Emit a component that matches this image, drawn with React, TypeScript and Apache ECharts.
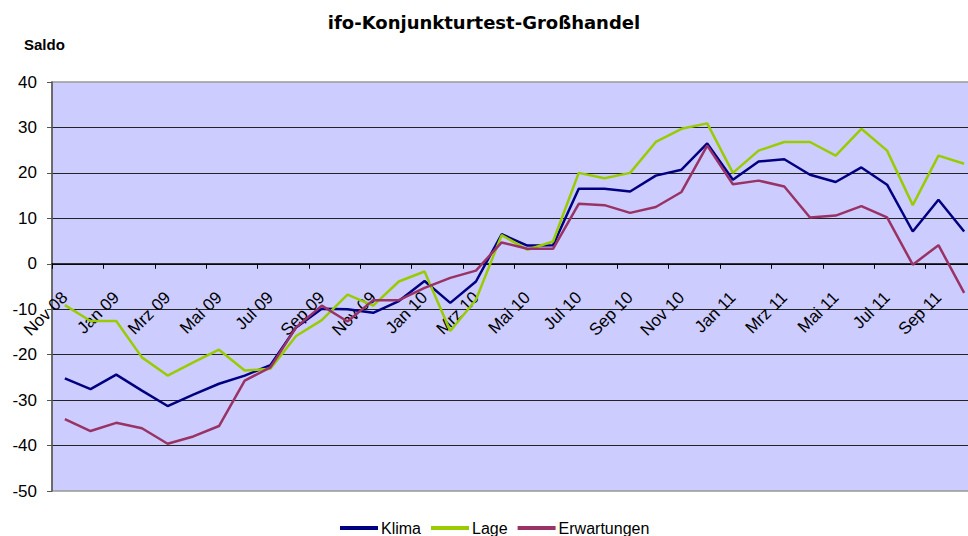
import React, { useEffect, useRef } from "react";
import * as echarts from "echarts";

const months = [
  "Nov 08", "Dez 08", "Jan 09", "Feb 09", "Mrz 09", "Apr 09", "Mai 09", "Jun 09", "Jul 09", "Aug 09",
  "Sep 09", "Okt 09", "Nov 09", "Dez 09", "Jan 10", "Feb 10", "Mrz 10", "Apr 10", "Mai 10", "Jun 10",
  "Jul 10", "Aug 10", "Sep 10", "Okt 10", "Nov 10", "Dez 10", "Jan 11", "Feb 11", "Mrz 11", "Apr 11",
  "Mai 11", "Jun 11", "Jul 11", "Aug 11", "Sep 11", "Okt 11",
];

const klima = [
  -25.2, -27.6, -24.4, -27.9, -31.3, -28.8, -26.4, -24.6, -22.3, -14.0,
  -9.9, -10.0, -10.8, -8.2, -3.8, -8.6, -3.9, 6.5, 4.0, 4.1,
  16.5, 16.5, 15.9, 19.4, 20.7, 26.5, 18.5, 22.5, 23.0, 19.6,
  18.0, 21.2, 17.4, 7.1, 14.1, 7.1,
];

const lage = [
  -9.1, -12.6, -12.6, -20.6, -24.6, -21.7, -18.9, -23.5, -23.1, -15.9,
  -12.4, -6.8, -9.2, -3.9, -1.7, -14.8, -7.9, 6.3, 3.1, 4.9,
  20.0, 18.8, 20.0, 26.8, 29.7, 30.9, 20.0, 24.9, 26.8, 26.8,
  23.8, 29.7, 24.9, 12.9, 23.8, 22.0,
];

const erwartungen = [
  -34.2, -36.8, -35.0, -36.2, -39.6, -38.0, -35.7, -25.7, -22.8, -14.0,
  -9.2, -12.7, -8.0, -8.0, -5.3, -3.1, -1.5, 4.7, 3.3, 3.3,
  13.2, 12.9, 11.2, 12.5, 15.8, 26.0, 17.5, 18.3, 17.0, 10.2,
  10.6, 12.7, 10.2, -0.2, 4.1, -6.4,
];

const FONT = "'Liberation Sans', Arial, sans-serif";

const GRID_TOP = 82;
const GRID_BOTTOM = 45;
const Y_MIN = -50;
const Y_MAX = 40;

export default function App() {
  const ref = useRef<HTMLDivElement>(null);
  useEffect(() => {
    if (!ref.current) return;
    const chart = echarts.init(ref.current, undefined, { renderer: "svg" });
    const plotH = 536 - GRID_TOP - GRID_BOTTOM;
    const zeroFromBottom = (0 - Y_MIN) / (Y_MAX - Y_MIN) * plotH;
    const mk = (name: string, data: number[], color: string) => ({
      name,
      type: "line",
      data,
      symbol: "none",
      lineStyle: { color, width: 2.5 },
      itemStyle: { color },
    });
    chart.setOption({
      animation: false,
      backgroundColor: "#ffffff",
      textStyle: { fontFamily: FONT },
      title: {
        text: "ifo-Konjunkturtest-Großhandel",
        left: "center",
        top: 8,
        textStyle: { fontFamily: "'DejaVu Sans', sans-serif", fontSize: 18, fontWeight: "bold", color: "#000" },
      },
      graphic: [
        {
          type: "text",
          left: 24,
          top: 37,
          style: { text: "Saldo", font: `bold 15px ${FONT}`, fill: "#000" },
        },
      ],
      legend: {
        left: 335,
        top: 515,
        itemWidth: 38,
        itemHeight: 4,
        itemGap: 10,
        icon: "rect",
        textStyle: { fontFamily: FONT, fontSize: 16, color: "#000", padding: [0, 0, 0, -2] },
        data: ["Klima", "Lage", "Erwartungen"],
      },
      grid: {
        left: 52,
        right: -9,
        top: GRID_TOP,
        bottom: GRID_BOTTOM,
        outerBoundsMode: "none",
        containLabel: false,
        show: true,
        backgroundColor: "#CCCCFF",
        borderColor: "#999999",
        borderWidth: 1.5,
      },
      xAxis: {
        type: "category",
        data: months,
        boundaryGap: true,
        offset: -zeroFromBottom,
        axisLine: { onZero: false, lineStyle: { color: "#000", width: 1.5 } },
        axisTick: { show: true, interval: 1, length: 5, lineStyle: { color: "#000" } },
        axisLabel: {
          interval: 1,
          rotate: 45,
          margin: 31,
          fontSize: 17,
          color: "#000",
          fontFamily: FONT,
          hideOverlap: false,
        },
        splitLine: { show: false },
      },
      yAxis: {
        type: "value",
        min: Y_MIN,
        max: Y_MAX,
        interval: 10,
        axisLine: { show: true, lineStyle: { color: "#555", width: 1.5 } },
        axisTick: { show: true, length: 5, lineStyle: { color: "#555" } },
        axisLabel: { margin: 15, fontSize: 17, color: "#000", fontFamily: FONT },
        splitLine: {
          show: true,
          showMinLine: false,
          showMaxLine: false,
          lineStyle: { color: "#222", width: 1.2 },
        },
      },
      series: [
        mk("Klima", klima, "#000080"),
        mk("Lage", lage, "#99CC00"),
        mk("Erwartungen", erwartungen, "#993366"),
      ],
    });
    return () => chart.dispose();
  }, []);
  return (
    <div
      ref={ref}
      style={{ position: "fixed", left: 0, top: 0, width: 968, height: 536 }}
    />
  );
}
